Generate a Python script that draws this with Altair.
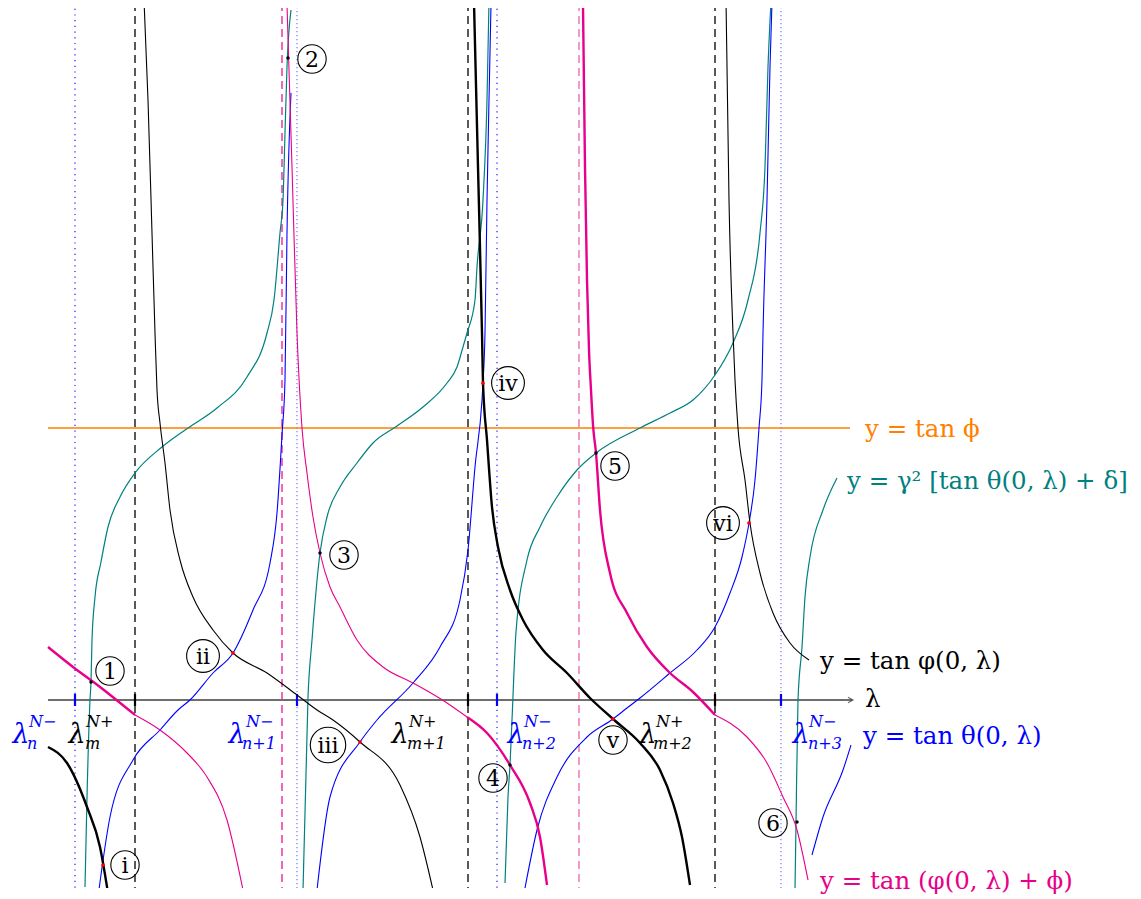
import altair as alt
import pandas as pd

# ---------------- data (x: horizontal position, y: height above the λ-axis) -------------
black_thick = [
    [(48, -47), (67, -63), (87, -107), (100, -147), (108, -193)],
    [(474, 697), (478, 533), (482, 367), (483, 317), (487, 260), (492, 193), (498, 153), (510, 110),
     (523, 80), (543, 50), (567, 27), (590, 2), (613, -19), (640, -43), (660, -70), (673, -103),
     (682, -137), (690, -185)],
]
black_thin = [
    [(144, 700), (148, 600), (152, 467), (155, 367), (157, 310), (160, 277), (165, 237), (170, 190),
     (180, 140), (193, 103), (213, 70), (233, 47), (267, 27), (297, 5), (317, -10), (333, -20),
     (360, -42), (400, -85), (420, -137), (433, -190)],
    [(726, 700), (729, 500), (733, 367), (735, 320), (738, 272), (745, 220), (750, 177), (760, 127),
     (773, 87), (790, 57), (809, 40)],
]
blue_curves = [
    [(98, -197), (110, -117), (133, -60), (160, -30), (178, -10), (190, 0), (213, 27), (233, 47),
     (253, 90), (270, 137), (277, 187), (282, 265), (285, 320), (287, 467), (291, 607)],
    [(317, -190), (330, -97), (360, -42), (377, -20), (413, 17), (440, 53), (460, 100), (468, 150),
     (475, 233), (482, 300), (483, 317), (485, 367), (487, 500), (489, 600), (491, 695)],
    [(525, -188), (537, -130), (557, -77), (587, -37), (613, -19), (627, -8), (640, 2), (670, 27),
     (697, 50), (715, 73), (730, 107), (742, 143), (749, 177), (755, 220), (759, 272), (762, 320),
     (763, 367), (767, 500), (770, 633), (772, 698)],
    [(812, -155), (823, -117), (843, -70), (851, -45)],
]
magenta_thick = [
    [(48, 53), (73, 33), (100, 13), (135, -15)],
    [(467, -17), (487, -33), (510, -65), (530, -103), (540, -137), (547, -185)],
    [(583, 694), (585, 533), (587, 420), (589, 350), (591, 310), (593, 275), (596, 247), (600, 190),
     (610, 127), (627, 87), (647, 53), (670, 27), (693, 8), (715, -15)],
]
magenta_thin = [
    [(135, -15), (160, -30), (187, -53), (207, -77), (227, -120), (243, -190)],
    [(287, 695), (292, 533), (297, 367), (302, 272), (307, 227), (313, 183), (320, 147), (330, 113),
     (340, 93), (357, 60), (383, 33), (413, 17), (447, -3), (467, -17)],
    [(715, -15), (747, -37), (767, -63), (783, -97), (797, -130), (808, -180)],
]
teal_curves = [
    [(85, -187), (87, -97), (90, 0), (91, 18), (92, 60), (95, 103), (101, 138), (108, 173),
     (120, 203), (135, 227), (162, 253), (188, 272), (217, 292), (247, 323), (267, 367), (274, 400),
     (280, 467), (283, 500), (285, 567), (287, 633), (291, 690)],
    [(303, -190), (308, 3), (312, 60), (320, 147), (327, 183), (340, 213), (357, 237), (373, 257),
     (397, 274), (423, 293), (447, 317), (457, 333), (463, 353), (467, 367), (475, 400), (477, 433),
     (483, 500), (487, 600), (489, 698)],
    [(505, -183), (508, -97), (510, -65), (512, -20), (516, 68), (527, 140), (540, 173), (557, 203),
     (577, 230), (596, 247), (640, 272), (670, 287), (693, 300), (715, 325), (733, 357), (748, 400),
     (760, 467), (765, 533), (768, 633), (771, 698)],
    [(795, -190), (796, -123), (798, 0), (802, 53), (805, 103), (810, 143), (823, 190), (837, 222)],
]
tan_phi_level = 272          # orange line y = tan ϕ
axis_x = [48, 853]

blue_marks_x = [75, 297, 497, 781]       # λ_n^{N-} ...
black_marks_x = [135, 468, 715]           # λ_m^{N+} ...
magenta_asym_x = [282, 579]

black_dots = [(91, 18), (288, 642), (320, 147), (510, -65), (596, 247), (797, -122)]
red_dots = [(103, -165), (233, 47), (360, -42), (483, 317), (613, -19), (749, 177)]

circ_text = ["1", "2", "3", "4", "5", "6", "i", "ii", "iii", "iv", "v", "vi"]
circ_x = [110, 312, 344, 493, 615, 773, 125, 203, 328, 508, 613, 723]
circ_y = [29, 641, 145, -78, 234, -123, -165, 44, -45, 317, -40, 177]

tick_sub = ["n", "m", "n+1", "m+1", "n+2", "m+2", "n+3"]
tick_sup = ["N−", "N+", "N−", "N+", "N−", "N+", "N−"]
tick_lam_x = [21, 77, 237, 400, 516, 648, 801]
tick_sup_x = [29, 86, 246, 409, 524, 656, 809]
tick_sub_x = [27, 85, 242, 407, 522, 653, 808]
tick_kind = ["n", "m", "n", "m", "n", "m", "n"]

curve_labels = ["y = tan ϕ", "y = γ² [tan θ(0, λ) + δ]", "y = tan φ(0, λ)",
                "y = tan θ(0, λ)", "y = tan (φ(0, λ) + ϕ)", "λ"]
curve_label_x = [865, 847, 820, 863, 820, 865]
curve_label_y = [270, 218, 38, -37, -182, 0]
curve_label_kind = ["orange", "teal", "black", "blue", "magenta", "black"]

# ---------------- styling ----------------
W, H = 1120, 880
COL = {"black": "#000000", "blue": "#0000ff", "teal": "#008080", "orange": "#ff8000",
       "magenta": "#e8008a", "gray": "#6e6e6e"}
XS = alt.Scale(domain=[8, 8 + W], nice=False, zero=False)
YS = alt.Scale(domain=[700 - 8 - H, 692], nice=False, zero=False)


def X(f):
    return alt.X(f, type="quantitative", scale=XS, axis=None)


def Y(f):
    return alt.Y(f, type="quantitative", scale=YS, axis=None)


def curves_df(branches):
    rows = []
    for b, pts in enumerate(branches):
        for i, (x, y) in enumerate(pts):
            rows.append({"x": x, "y": y, "b": b, "o": i})
    return pd.DataFrame(rows)


def line_layer(branches, color, width):
    return alt.Chart(curves_df(branches)).mark_line(
        color=color, strokeWidth=width, clip=True, interpolate="monotone"
    ).encode(x=X("x"), y=Y("y"), detail="b:N", order="o:Q")


def vlines(xs, color, dash, width=1.0):
    df = pd.DataFrame({"x": xs, "y": [697] * len(xs), "y2": [-192] * len(xs)})
    return alt.Chart(df).mark_rule(color=color, strokeDash=dash, strokeWidth=width, clip=True).encode(
        x=X("x"), y=Y("y"), y2="y2")


layers = []
# asymptotes / marker lines
layers.append(vlines([blue_marks_x[0], blue_marks_x[2]], "#0000ff", [1.2, 4.5], 1.1))
layers.append(vlines([blue_marks_x[1], blue_marks_x[3]], "#7a7aff", [1.3, 2.7], 1.2))
layers.append(vlines(black_marks_x, "#000000", [8, 5], 1.3))
layers.append(vlines([magenta_asym_x[0]], "#ec008c", [8, 5], 1.2))
layers.append(vlines([magenta_asym_x[1]], "#e6589f", [8, 5], 1.2))

# orange level
orange_df = pd.DataFrame({"x": [axis_x[0]], "x2": [850], "y": [tan_phi_level]})
layers.append(alt.Chart(orange_df).mark_rule(color=COL["orange"], strokeWidth=1.3).encode(
    x=X("x"), x2="x2", y=Y("y")))

# λ axis
axis_df = pd.DataFrame({"x": [axis_x[0]], "x2": [axis_x[1] - 1], "y": [0]})
layers.append(alt.Chart(axis_df).mark_rule(color=COL["gray"], strokeWidth=2).encode(
    x=X("x"), x2="x2", y=Y("y")))
arrow_df = pd.DataFrame({"x": [axis_x[1]], "y": [0]})
layers.append(alt.Chart(arrow_df).mark_point(
    shape="M-1,-0.55L0,0L-1,0.55", filled=False, stroke="#333333", strokeWidth=1.2, size=100
).encode(x=X("x"), y=Y("y")))

# axis marks
tick_df = pd.DataFrame({
    "x": blue_marks_x + black_marks_x,
    "c": [COL["blue"]] * len(blue_marks_x) + [COL["black"]] * len(black_marks_x),
    "y": [6] * 7, "y2": [-6] * 7})
layers.append(alt.Chart(tick_df).mark_rule(strokeWidth=2.2).encode(
    x=X("x"), y=Y("y"), y2="y2", color=alt.Color("c:N", scale=None)))

# curves
layers.append(line_layer(teal_curves, COL["teal"], 1.2))
layers.append(line_layer(blue_curves, COL["blue"], 1.1))
layers.append(line_layer(magenta_thin, COL["magenta"], 1.1))
layers.append(line_layer(magenta_thick, COL["magenta"], 2.4))
layers.append(line_layer(black_thin, COL["black"], 1.1))
layers.append(line_layer(black_thick, COL["black"], 2.4))

# intersection dots
bd = pd.DataFrame(black_dots, columns=["x", "y"])
rd = pd.DataFrame(red_dots, columns=["x", "y"])
layers.append(alt.Chart(bd).mark_circle(color="black", size=12, opacity=1).encode(x=X("x"), y=Y("y")))
layers.append(alt.Chart(rd).mark_circle(color="red", size=14, opacity=1).encode(x=X("x"), y=Y("y")))

# circled labels
radius = {1: 16, 2: 18.5, 3: 20}
cdf = pd.DataFrame({"t": circ_text, "x": circ_x, "y": circ_y})
cdf["s"] = [3.1416 * radius[len(t)] ** 2 for t in circ_text]
layers.append(alt.Chart(cdf).mark_point(shape="circle", filled=False, stroke="black",
                                        strokeWidth=1.1, opacity=1).encode(
    x=X("x"), y=Y("y"), size=alt.Size("s:Q", scale=None)))
layers.append(alt.Chart(cdf).mark_text(font="DejaVu Serif", fontSize=22, align="center",
                                       baseline="middle", dy=1, color="black").encode(
    x=X("x"), y=Y("y"), text="t:N"))

# λ tick labels
tcol = [COL["blue"] if k == "n" else COL["black"] for k in tick_kind]
lam_df = pd.DataFrame({"x": tick_lam_x, "y": [-35] * 7, "t": ["λ"] * 7, "c": tcol})
sup_df = pd.DataFrame({"x": tick_sup_x, "y": [-22] * 7, "t": tick_sup, "c": tcol})
sub_df = pd.DataFrame({"x": tick_sub_x, "y": [-44] * 7, "t": tick_sub, "c": tcol})
layers.append(alt.Chart(lam_df).mark_text(font="DejaVu Serif", fontStyle="italic", fontSize=27,
                                          align="center", baseline="middle").encode(
    x=X("x"), y=Y("y"), text="t:N", color=alt.Color("c:N", scale=None)))
layers.append(alt.Chart(sup_df).mark_text(font="DejaVu Serif", fontStyle="italic", fontSize=16,
                                          align="left", baseline="middle").encode(
    x=X("x"), y=Y("y"), text="t:N", color=alt.Color("c:N", scale=None)))
layers.append(alt.Chart(sub_df).mark_text(font="DejaVu Serif", fontStyle="italic", fontSize=16,
                                          align="left", baseline="middle").encode(
    x=X("x"), y=Y("y"), text="t:N", color=alt.Color("c:N", scale=None)))

# curve labels
ldf = pd.DataFrame({"t": curve_labels, "x": curve_label_x, "y": curve_label_y,
                    "c": [COL[k] for k in curve_label_kind]})
layers.append(alt.Chart(ldf).mark_text(font="DejaVu Serif", fontSize=24.5, align="left",
                                       baseline="middle").encode(
    x=X("x"), y=Y("y"), text="t:N", color=alt.Color("c:N", scale=None)))

chart = alt.layer(*layers).properties(
    width=W, height=H, padding={"left": 0, "top": 0, "right": 0, "bottom": 10},
    autosize=alt.AutoSizeParams(type="none"), background="white"
).configure_view(stroke=None)

chart.save("out.html", embed_options={"renderer": "svg", "actions": False})
